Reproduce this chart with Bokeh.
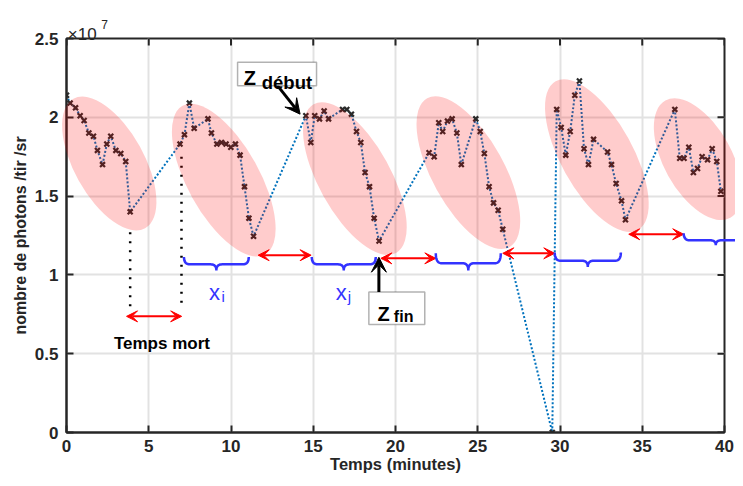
import numpy as np
from bokeh.plotting import figure
from bokeh.models import (Range1d, FixedTicker, NumeralTickFormatter,
                          Label, Arrow, VeeHead, BoxAnnotation)
from bokeh.core.properties import value
from bokeh.embed import file_html
from bokeh.resources import INLINE

# ---------------- data (time in minutes, photons /tir /sr in units of 1e7) -------------
seg1_t = [0.0, 0.22, 0.55, 0.83, 1.07, 1.36, 1.64, 1.88, 2.19, 2.45, 2.69, 3.0, 3.3, 3.6, 3.87]
seg1_y = [2.14, 2.09, 2.06, 2.01, 1.98, 1.90, 1.88, 1.79, 1.70, 1.83, 1.88, 1.79, 1.77, 1.72, 1.40]
seg2_t = [6.9, 7.17, 7.47, 7.76, 8.6, 8.81, 9.14, 9.42, 9.7, 9.99, 10.27, 10.55, 10.82, 11.09, 11.37]
seg2_y = [1.83, 1.89, 2.09, 1.93, 1.99, 1.90, 1.83, 1.84, 1.83, 1.81, 1.83, 1.76, 1.56, 1.36, 1.245]
seg3_t = [14.55, 14.85, 15.09, 15.38, 15.66, 15.93, 16.78, 17.04, 17.32, 17.63, 17.89, 18.15, 18.42, 18.7, 19.0]
seg3_y = [2.01, 1.84, 2.01, 1.99, 2.04, 1.99, 2.05, 2.05, 2.02, 1.91, 1.84, 1.65, 1.56, 1.36, 1.215]
seg4_t = [22.04, 22.35, 22.63, 22.87, 23.16, 23.44, 23.73, 24.0, 24.88, 25.15, 25.4, 25.69, 25.96, 26.24, 26.52, 29.53]
seg4_y = [1.775, 1.75, 1.965, 1.91, 1.976, 1.99, 1.90, 1.70, 1.99, 1.91, 1.77, 1.56, 1.457, 1.41, 1.29, 0.0]
seg5_t = [29.8, 30.07, 30.35, 30.62, 30.9, 31.18, 31.46, 31.73, 32.04, 32.89, 33.13, 33.41, 33.74, 33.98]
seg5_y = [2.05, 1.936, 1.76, 1.91, 2.14, 2.23, 1.80, 1.70, 1.86, 1.78, 1.70, 1.58, 1.47, 1.35]
seg6_t = [36.98, 37.28, 37.54, 37.83, 38.11, 38.36, 38.64, 38.97, 39.25, 39.53, 39.78]
seg6_y = [2.05, 1.74, 1.74, 1.81, 1.65, 1.675, 1.75, 1.73, 1.80, 1.72, 1.53]

t_all = seg1_t + seg2_t + seg3_t + seg4_t + seg5_t + seg6_t
y_all = seg1_y + seg2_y + seg3_y + seg4_y + seg5_y + seg6_y

x_ticks = [0, 5, 10, 15, 20, 25, 30, 35, 40]
y_ticks = [0, 0.5, 1, 1.5, 2, 2.5]

# groups (ellipses) : centre in data units
ell_x = [2.60, 9.56, 17.53, 24.43, 32.24, 38.38]
ell_y = [1.707, 1.601, 1.611, 1.649, 1.757, 1.734]
ell_major = [148, 170, 170, 170, 170, 134]
ell_minor = [70, 72, 72, 72, 72, 68]

AX = "#262626"
FONT = "Liberation Sans"
BLUE = "#3333ff"

X0, X1, Y0, Y1 = 0, 40, 0, 2.5

p = figure(width=735, height=478, x_range=Range1d(X0, X1), y_range=Range1d(Y0, Y1),
           output_backend="svg", toolbar_location=None,
           min_border_left=66, min_border_right=11, min_border_top=38, min_border_bottom=46,
           x_axis_label="Temps (minutes)", y_axis_label="nombre de photons /tir /sr")
p.outline_line_color = AX
p.outline_line_width = 2
p.background_fill_color = "white"


def style_axis(ax, ticks):
    ax.ticker = FixedTicker(ticks=ticks)
    ax.axis_line_color = AX
    ax.axis_line_width = 2
    ax.major_tick_in = 7
    ax.major_tick_out = 0
    ax.major_tick_line_color = AX
    ax.major_tick_line_width = 2
    ax.minor_tick_line_color = None
    ax.major_label_text_font = FONT
    ax.major_label_text_font_style = "bold"
    ax.major_label_text_color = AX
    ax.major_label_text_font_size = "17px"
    ax.formatter = NumeralTickFormatter(format="0.[0]")
    ax.axis_label_text_font = FONT
    ax.axis_label_text_font_style = "bold"
    ax.axis_label_text_color = AX


style_axis(p.xaxis[0], x_ticks)
style_axis(p.yaxis[0], y_ticks)
p.xaxis[0].major_label_standoff = 7
p.xaxis[0].axis_label_standoff = 0
p.xaxis[0].axis_label_text_font_size = "16.5px"
p.yaxis[0].major_label_standoff = 8
p.yaxis[0].axis_label_standoff = 3
p.yaxis[0].axis_label_text_font_size = "16px"

for g in (p.xgrid[0], p.ygrid[0]):
    g.grid_line_color = "#e2e2e2"
    g.grid_line_width = 2
p.xgrid[0].ticker = FixedTicker(ticks=x_ticks)
p.ygrid[0].ticker = FixedTicker(ticks=y_ticks)

# inward ticks on the top and right edges of the box (7 px long)
tick_dy = 7 * (Y1 - Y0) / 394
tick_dx = 7 * (X1 - X0) / 658
p.segment(x0=x_ticks, y0=[Y1] * len(x_ticks), x1=x_ticks, y1=[Y1 - tick_dy] * len(x_ticks),
          line_color=AX, line_width=2)
p.segment(x0=[X1] * len(y_ticks), y0=y_ticks, x1=[X1 - tick_dx] * len(y_ticks), y1=y_ticks,
          line_color=AX, line_width=2)

# ---------------- data line & markers ----------------
p.line(t_all, y_all, line_color="#0072BD", line_width=2, line_dash="2 2")
p.scatter(t_all, y_all, marker="x", size=7, line_width=2.2, line_color="#2a2a2a")

# ---------------- black dotted "dead time" lines ----------------
p.segment(x0=[3.87, 6.99], y0=[1.27, 1.75], x1=[3.87, 6.99], y1=[0.80, 0.80],
          line_color="black", line_width=2.5, line_dash="2 7")

# ---------------- ellipses ----------------
p.ellipse(x=ell_x, y=ell_y, width=ell_major, height=ell_minor,
          width_units="screen", height_units="screen", angle=-61, angle_units="deg",
          fill_color="#ff0000", fill_alpha=0.2, line_color=None, level="overlay")


# ---------------- braces ----------------
def bez(p0, c, p1, n=12):
    s = np.linspace(0, 1, n)
    bx = (1 - s) ** 2 * p0[0] + 2 * (1 - s) * s * c[0] + s ** 2 * p1[0]
    by = (1 - s) ** 2 * p0[1] + 2 * (1 - s) * s * c[1] + s ** 2 * p1[1]
    return list(bx), list(by)


def brace(x0, x1, ytop, ymain, ytip, r=0.35):
    xm = (x0 + x1) / 2
    xs, ys = [], []
    for a, b, c in [((x0, ytop), (x0, ymain), (x0 + r, ymain)),
                    ((xm - r, ymain), (xm, ymain), (xm, ytip)),
                    ((xm, ytip), (xm, ymain), (xm + r, ymain)),
                    ((x1 - r, ymain), (x1, ymain), (x1, ytop))]:
        bx, by = bez(a, b, c)
        xs += bx
        ys += by
    return xs, ys


brace_x0 = [7.14, 14.91, 22.45, 29.68, 37.52]
brace_x1 = [11.08, 18.80, 26.40, 33.70, 41.42]
brace_top = [1.114, 1.114, 1.137, 1.142, 1.264]
brace_main = [1.067, 1.067, 1.074, 1.090, 1.220]
brace_tip = [1.029, 1.029, 1.029, 1.050, 1.188]
bxs, bys = [], []
for a, b, c, d, e in zip(brace_x0, brace_x1, brace_top, brace_main, brace_tip):
    xs, ys = brace(a, b, c, d, e)
    bxs.append(xs)
    bys.append(ys)
p.multi_line(bxs, bys, line_color=BLUE, line_width=2.5, level="overlay")

# ---------------- red double arrows ----------------
red_x0 = [3.65, 11.65, 19.11, 26.52, 34.18]
red_x1 = [7.00, 14.87, 22.45, 29.68, 37.52]
red_y = [0.737, 1.125, 1.105, 1.137, 1.258]
for a, b, yy in zip(red_x0, red_x1, red_y):
    p.add_layout(Arrow(x_start=a, y_start=yy, x_end=b, y_end=yy,
                       line_color="red", line_width=2,
                       start=VeeHead(size=11, fill_color="red", line_color="red", line_width=1),
                       end=VeeHead(size=11, fill_color="red", line_color="red", line_width=1)))

# ---------------- black arrows to Z debut / Z fin ----------------
p.add_layout(Arrow(x_start=12.72, y_start=2.215, x_end=14.2, y_end=2.02,
                   line_color="black", line_width=3,
                   end=VeeHead(size=15, fill_color="black", line_color="black", line_width=1)))
p.add_layout(Arrow(x_start=18.99, y_start=0.889, x_end=18.99, y_end=1.112,
                   line_color="black", line_width=3,
                   end=VeeHead(size=15, fill_color="black", line_color="black", line_width=1)))

# ---------------- boxes ----------------
p.add_layout(BoxAnnotation(left=10.4, right=15.2, bottom=2.2, top=2.349,
                           fill_color="white", fill_alpha=1, line_color="black", line_width=1.5))
p.add_layout(BoxAnnotation(left=18.38, right=21.78, bottom=0.686, top=0.891,
                           fill_color="white", fill_alpha=1, line_color="black", line_width=1.5))


def lab(x, y, text, size, color="black", bold=True, align="left"):
    p.add_layout(Label(x=x, y=y, text=text, text_font=FONT, text_font_size=size,
                       text_font_style="bold" if bold else "normal", text_color=color,
                       text_align=align, text_baseline="alphabetic"))


lab(10.78, 2.251, "Z", "20px")
lab(11.87, 2.222, "début", "18.5px")
lab(18.90, 0.754, "Z", "20px")
lab(19.90, 0.733, "fin", "16px")
lab(5.80, 0.565, "Temps mort", "17px", align="center")
lab(8.66, 0.891, "x", "22px", color=BLUE, bold=False)
lab(9.42, 0.864, "i", "15px", color=BLUE, bold=False)
lab(16.37, 0.891, "x", "22px", color=BLUE, bold=False)
lab(17.10, 0.864, "j", "15px", color=BLUE, bold=False)

# axis exponent, drawn outside the frame (overlay level is not clipped)
p.text(x=[0.08], y=[2.527], text=["×10"], text_font=value(FONT), text_font_size="17px",
       text_color=AX, text_baseline="alphabetic", level="overlay")
p.text(x=[2.12], y=[2.592], text=["7"], text_font=value(FONT), text_font_size="12px",
       text_color=AX, text_baseline="alphabetic", level="overlay")

open("out.html", "w").write(file_html(p, INLINE))
